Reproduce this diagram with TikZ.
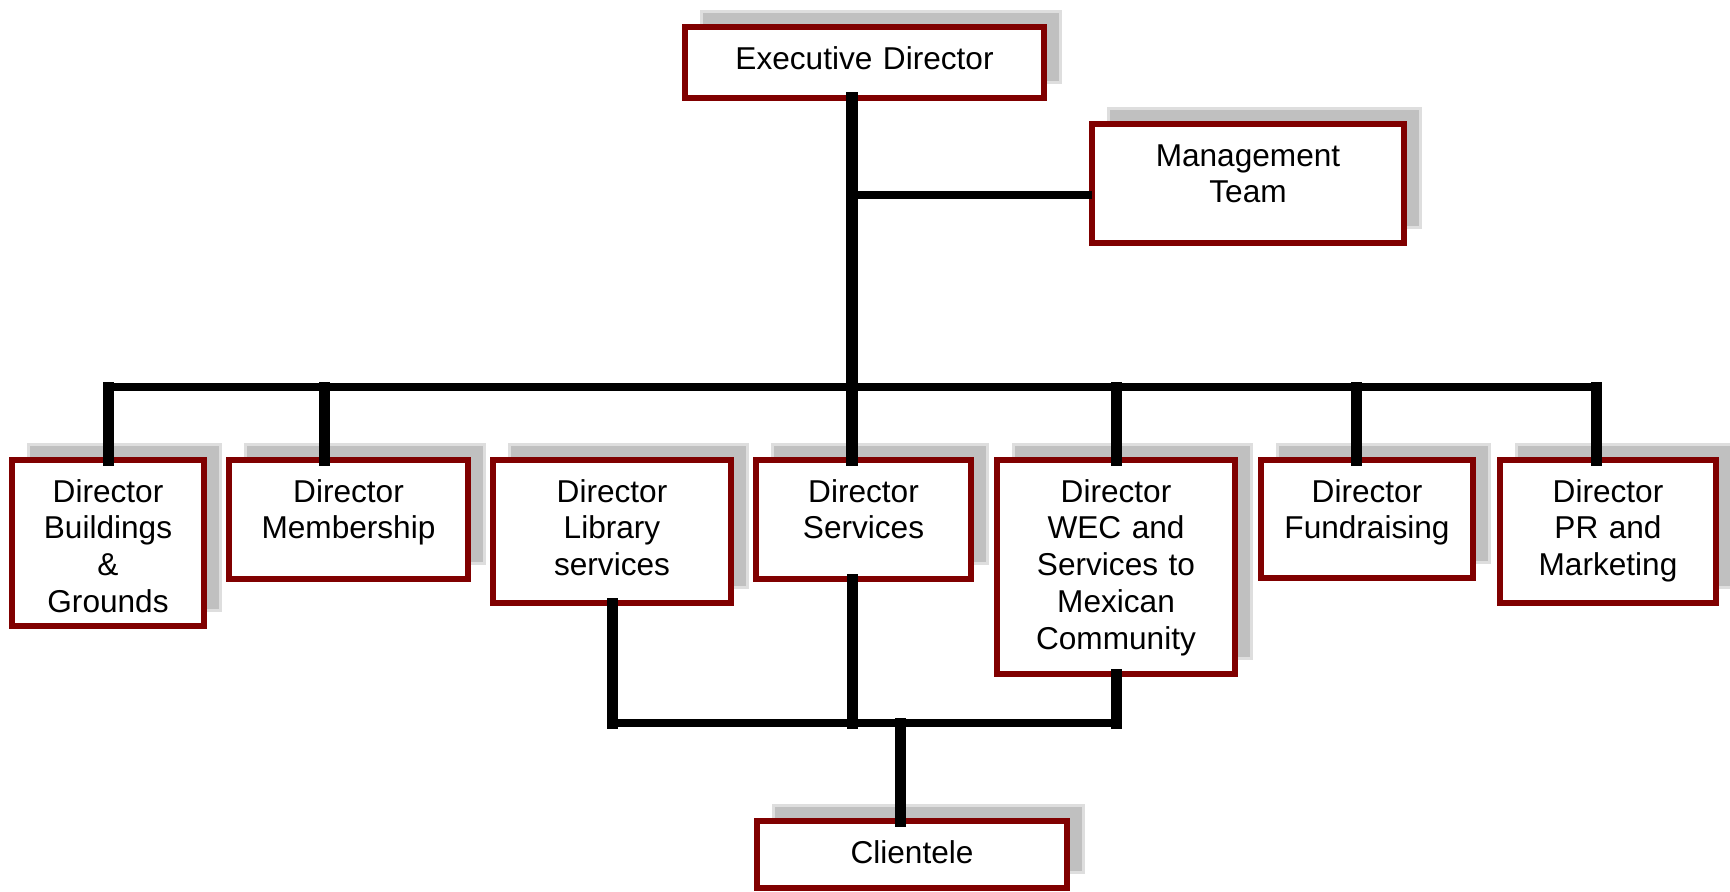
\documentclass[tikz,border=0pt]{standalone}
\usepackage{fontspec}
\setmainfont{Liberation Sans}
\usetikzlibrary{shadows}

\definecolor{boxred}{RGB}{128,0,0}
\definecolor{shadowgray}{RGB}{192,192,192}
\definecolor{shadowrim}{RGB}{222,222,222}

\begin{document}
\begin{tikzpicture}[
  x=0.5pt, y=-0.5pt,
  post/.style={draw=boxred, line width=3pt, fill=white, anchor=north,
    inner sep=0pt, outer sep=0pt, align=center, text height=21pt,
    font=\fontsize{15.8}{18.4}\selectfont,
    drop shadow={shadow xshift=8pt, shadow yshift=8pt, opacity=1,
      fill=shadowgray, draw=shadowrim, line width=1.5pt}},
  spine/.style={line width=6pt, line cap=rect},
  rail/.style={line width=3.75pt},
  stub/.style={line width=5.5pt, line cap=rect}
]
\useasboundingbox (0,0) rectangle (1730,891);

% top of the chart
\node[post, text width=179.5pt, text depth=14.5pt] (exec) at (864.5,27) {Executive Director};
\node[post, text width=156pt, text depth=38.5pt] (mgmt) at (1248,124) {Management\\Team};

% directors
\node[post, text width=96pt, text depth=62pt] (bld) at (108,460) {Director\\Buildings\\\&\\Grounds};
\node[post, text width=119.5pt, text depth=38.5pt] (mem) at (348.5,460) {Director\\Membership};
\node[post, text width=119pt, text depth=50.5pt] (lib) at (612,460) {Director\\Library\\services};
\node[post, text width=107.5pt, text depth=38.5pt] (svc) at (863.5,460) {Director\\Services};
\node[post, text width=119pt, text depth=86pt] (wec) at (1116,460) {Director\\WEC and\\Services to\\Mexican\\Community};
\node[post, text width=106pt, text depth=38pt] (fund) at (1367,460) {Director\\Fundraising};
\node[post, text width=108pt, text depth=50.5pt] (pr) at (1608,460) {Director\\PR and\\Marketing};

\node[post, text width=155pt, text depth=12.5pt] (client) at (912,821) {Clientele};

% reporting lines
\coordinate (hub) at (852,387);
\coordinate (mg) at (852,195);
\coordinate (low) at (852,723);
\coordinate (cl) at (900,723);

\draw[spine] (exec.south -| hub) -- (svc.north -| hub);
\draw[rail] (mg) -- (mg -| mgmt.west);
\draw[rail] (108,387 |- hub) -- (1596,387 |- hub);
\foreach \x/\n in {108/bld, 324/mem, 1116/wec, 1356/fund, 1596/pr}
  \draw[stub] (\x,387 |- hub) -- (\x,387 |- \n.north);

% lines down to the clientele
\draw[stub] (lib.south) -- (lib.south |- low);
\draw[stub] (svc.south -| hub) -- (low);
\draw[stub] (wec.south) -- (wec.south |- low);
\draw[rail] (lib.south |- low) -- (wec.south |- low);
\draw[stub] (cl) -- (cl |- client.north);
\end{tikzpicture}
\end{document}
